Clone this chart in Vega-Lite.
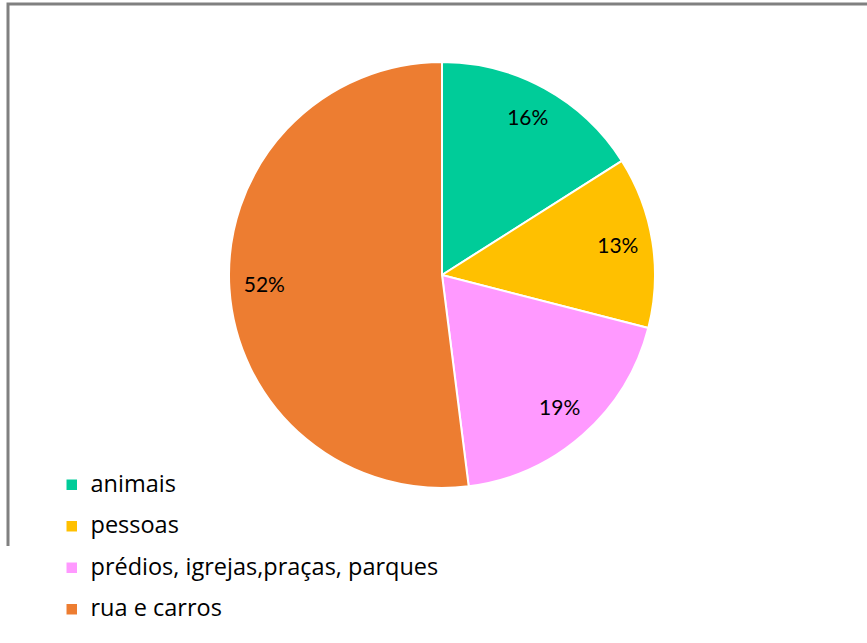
{
  "$schema": "https://vega.github.io/schema/vega-lite/v6.json",
  "width": 868,
  "height": 542,
  "padding": {"left": 8, "top": 4, "right": 0, "bottom": 97},
  "autosize": {"type": "none"},
  "background": "white",
  "view": {"stroke": "#808080", "strokeWidth": 3, "strokeDash": [868, 1410, 542]},
  "data": {
    "values": [
      {"categoria": "animais", "valor": 16, "rotulo": "16%", "ordem": 1},
      {"categoria": "pessoas", "valor": 13, "rotulo": "13%", "ordem": 2},
      {"categoria": "prédios, igrejas,praças, parques", "valor": 19, "rotulo": "19%", "ordem": 3},
      {"categoria": "rua e carros", "valor": 52, "rotulo": "52%", "ordem": 4}
    ]
  },
  "encoding": {
    "theta": {"field": "valor", "type": "quantitative", "stack": true},
    "order": {"field": "ordem", "type": "quantitative"}
  },
  "layer": [
    {
      "mark": {"type": "arc", "outerRadius": 213, "stroke": "white", "strokeWidth": 2},
      "encoding": {
        "color": {
          "field": "categoria",
          "type": "nominal",
          "sort": ["animais", "pessoas", "prédios, igrejas,praças, parques", "rua e carros"],
          "scale": {
            "domain": ["animais", "pessoas", "prédios, igrejas,praças, parques", "rua e carros"],
            "range": ["#00CC99", "#FFC000", "#FF99FF", "#ED7D31"]
          },
          "legend": {
            "title": null,
            "orient": "none",
            "legendX": 52,
            "legendY": 469,
            "symbolType": "square",
            "symbolSize": 110,
            "symbolStrokeWidth": 0,
            "labelFont": "Open Sans",
            "labelFontSize": 23.5,
            "labelColor": "#000000",
            "labelOffset": 7,
            "rowPadding": 16.5,
            "labelLimit": 700
          }
        }
      }
    },
    {
      "mark": {"type": "text", "radius": 178, "font": "Lato", "fontSize": 21, "color": "#000000"},
      "encoding": {
        "text": {"field": "rotulo", "type": "nominal"}
      }
    }
  ]
}
